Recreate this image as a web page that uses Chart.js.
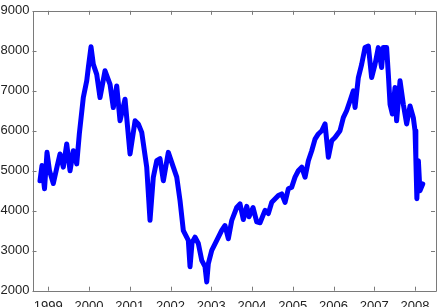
<!DOCTYPE html>
<html>
<head>
<meta charset="utf-8">
<script src="https://cdn.jsdelivr.net/npm/chart.js@4/dist/chart.umd.min.js"></script>
<style>
  html, body { margin: 0; padding: 0; background: #fff; }
  canvas { display: block; }
</style>
</head>
<body>
<canvas id="index-chart" width="440" height="307"></canvas>
<script>
const tickYears = [1999, 2000, 2001, 2002, 2003, 2004, 2005, 2006, 2007, 2008];
const tickValues = [2000, 3000, 4000, 5000, 6000, 7000, 8000, 9000];

const years = [
  1998.796, 1998.845, 1998.907, 1998.968, 1999.029, 1999.123, 1999.214, 1999.287,
  1999.368, 1999.452, 1999.533, 1999.614, 1999.697, 1999.761, 1999.859, 1999.943,
  1999.982, 2000.048, 2000.105, 2000.188, 2000.269, 2000.392, 2000.515, 2000.595,
  2000.679, 2000.760, 2000.883, 2001.006, 2001.129, 2001.209, 2001.293, 2001.415,
  2001.496, 2001.577, 2001.661, 2001.742, 2001.823, 2001.945, 2002.068, 2002.152,
  2002.233, 2002.314, 2002.436, 2002.478, 2002.527, 2002.601, 2002.682, 2002.765,
  2002.846, 2002.888, 2002.927, 2003.011, 2003.134, 2003.256, 2003.337, 2003.418,
  2003.502, 2003.624, 2003.705, 2003.786, 2003.870, 2003.926, 2004.025, 2004.115,
  2004.196, 2004.319, 2004.400, 2004.484, 2004.646, 2004.729, 2004.810, 2004.891,
  2004.974, 2005.055, 2005.136, 2005.220, 2005.301, 2005.382, 2005.465, 2005.546,
  2005.627, 2005.711, 2005.792, 2005.873, 2005.955, 2006.036, 2006.158, 2006.240,
  2006.321, 2006.405, 2006.486, 2006.528, 2006.609, 2006.690, 2006.773, 2006.854,
  2006.935, 2007.018, 2007.099, 2007.180, 2007.222, 2007.303, 2007.345, 2007.387,
  2007.443, 2007.509, 2007.548, 2007.632, 2007.713, 2007.794, 2007.877, 2007.958,
  2008.000, 2008.020, 2008.045, 2008.082, 2008.120, 2008.189,
];

const indexValues = [
  4750, 5130, 4550, 5460, 5000, 4680, 5100, 5420,
  5090, 5670, 5000, 5500, 5170, 5920, 6830, 7250,
  7580, 8100, 7660, 7410, 6830, 7500, 7160, 6580,
  7120, 6250, 6790, 5420, 6250, 6170, 5960, 5090,
  3760, 4840, 5250, 5300, 4750, 5460, 5090, 4840,
  4250, 3500, 3260, 2600, 3200, 3340, 3180, 2760,
  2600, 2220, 2680, 3010, 3260, 3510, 3630, 3300,
  3760, 4080, 4170, 3780, 4110, 3850, 4080, 3720,
  3700, 4010, 3930, 4210, 4380, 4420, 4210, 4550,
  4590, 4840, 5000, 5090, 4840, 5250, 5500, 5790,
  5920, 6000, 6170, 5340, 5750, 5830, 6000, 6330,
  6500, 6750, 7000, 6580, 7330, 7660, 8080, 8120,
  7330, 7660, 8080, 7580, 8080, 8080, 7410, 6660,
  6420, 7080, 6250, 7250, 6660, 6170, 6620, 6330,
  6000, 5300, 4300, 5250, 4500, 4670,
];

const AXIS_COLOR = "#7a7a7a";
const TICK_LEN = 4;

// matlab style box: all four sides, ticks pointing inward
const boxPlugin = {
  id: "matlabBox",
  afterDraw(chart) {
    const { ctx, chartArea: a, scales } = chart;
    ctx.save();
    ctx.strokeStyle = AXIS_COLOR;
    ctx.lineWidth = 1;
    ctx.beginPath();
    ctx.rect(Math.round(a.left) + 0.5, Math.round(a.top) + 0.5,
      Math.round(a.right - a.left), Math.round(a.bottom - a.top));
    tickYears.forEach((yr) => {
      const x = Math.round(scales.x.getPixelForValue(yr)) + 0.5;
      ctx.moveTo(x, a.bottom);
      ctx.lineTo(x, a.bottom - TICK_LEN);
      ctx.moveTo(x, a.top);
      ctx.lineTo(x, a.top + TICK_LEN);
    });
    tickValues.forEach((v) => {
      const y = Math.round(scales.y.getPixelForValue(v)) + 0.5;
      ctx.moveTo(a.left, y);
      ctx.lineTo(a.left + TICK_LEN, y);
      ctx.moveTo(a.right, y);
      ctx.lineTo(a.right - TICK_LEN, y);
    });
    ctx.stroke();
    ctx.restore();
  },
};

function buildChart(ctx) {
  const points = years.map((yr, i) => ({ x: yr, y: indexValues[i] }));
  const font = { family: "'Liberation Sans', Arial, sans-serif", size: 13 };

  return new Chart(ctx, {
    type: "line",
    data: {
      datasets: [
        {
          data: points,
          borderColor: "#0000ff",
          borderWidth: 5,
          pointRadius: 0,
          tension: 0,
          borderJoinStyle: "round",
          borderCapStyle: "round",
        },
      ],
    },
    options: {
      responsive: false,
      animation: false,
      layout: { padding: { top: 9.5, right: 5, left: 0, bottom: 0 } },
      plugins: {
        legend: { display: false },
        tooltip: { enabled: false },
      },
      scales: {
        x: {
          type: "linear",
          min: 1998.612,
          max: 2008.49,
          afterBuildTicks: (scale) => {
            scale.ticks = tickYears.map((v) => ({ value: v }));
          },
          afterFit: (scale) => {
            scale.height = 16.3;
          },
          grid: { display: false, drawTicks: false },
          border: { display: false },
          ticks: {
            color: "#222",
            font,
            padding: 8,
            maxRotation: 0,
            callback: (v) => String(v),
          },
        },
        y: {
          min: 2000,
          max: 9000,
          afterBuildTicks: (scale) => {
            scale.ticks = tickValues.map((v) => ({ value: v }));
          },
          afterFit: (scale) => {
            scale.width = 32.5;
          },
          grid: { display: false, drawTicks: false },
          border: { display: false },
          ticks: {
            color: "#222",
            font,
            padding: 3,
            callback: (v) => String(v),
          },
        },
      },
    },
    plugins: [boxPlugin],
  });
}

document.addEventListener("DOMContentLoaded", () => {
  const chartEl = document.getElementById("index-chart");
  buildChart(chartEl.getContext("2d"));
});
</script>
</body>
</html>
